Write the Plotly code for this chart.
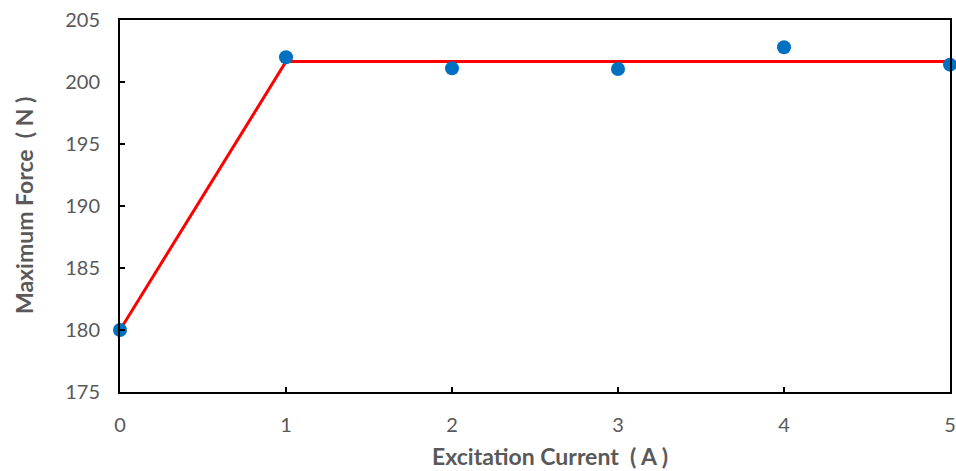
import plotly.graph_objects as go

current = [0, 1, 2, 3, 4, 5]
force = [180.0, 202.0, 201.1, 201.05, 202.8, 201.4]
fit_x = [0, 1, 5]
fit_y = [180.0, 201.65, 201.65]

fig = go.Figure()
fig.add_trace(go.Scatter(x=fit_x, y=fit_y, mode="lines",
                         line=dict(color="#FF0000", width=3), cliponaxis=False,
                         showlegend=False))
fig.add_trace(go.Scatter(x=current, y=force, mode="markers",
                         marker=dict(color="#0070C0", size=14), cliponaxis=False,
                         showlegend=False))

font_fam = "Lato, 'Open Sans', sans-serif"
fig.update_layout(
    width=956, height=471,
    margin=dict(l=120, r=6, t=20, b=79),
    plot_bgcolor="white", paper_bgcolor="white",
    font=dict(family=font_fam, color="#595959", size=20),
)
fig.update_xaxes(range=[0, 5], dtick=1, showgrid=False, zeroline=False,
                 showline=True, linecolor="black", linewidth=2, mirror=True,
                 ticks="inside", ticklen=5, tickcolor="black", tickwidth=1.5,
                 ticklabelstandoff=14, automargin=False, ticklabeloverflow="allow",
                 tickfont=dict(size=20, color="#595959"))
fig.update_yaxes(range=[175, 205], dtick=5, showgrid=False, zeroline=False,
                 showline=True, linecolor="black", linewidth=2, mirror=True,
                 ticks="inside", ticklen=5, tickcolor="black", tickwidth=1.5,
                 ticklabelstandoff=14, automargin=False,
                 tickfont=dict(size=20, color="#595959"))

fig.add_annotation(text="<b>Excitation Current  ( A )</b>", xref="paper", yref="paper",
                   x=0.518, y=0, xanchor="center", yanchor="middle", yshift=-64,
                   showarrow=False, font=dict(size=23, color="#595959"))
fig.add_annotation(text="<b>Maximum Force  ( N )</b>", xref="paper", yref="paper",
                   x=0, y=0.5, xanchor="center", yanchor="middle", xshift=-96,
                   textangle=-90, showarrow=False, font=dict(size=23, color="#595959"))

fig.write_html("out.html")
